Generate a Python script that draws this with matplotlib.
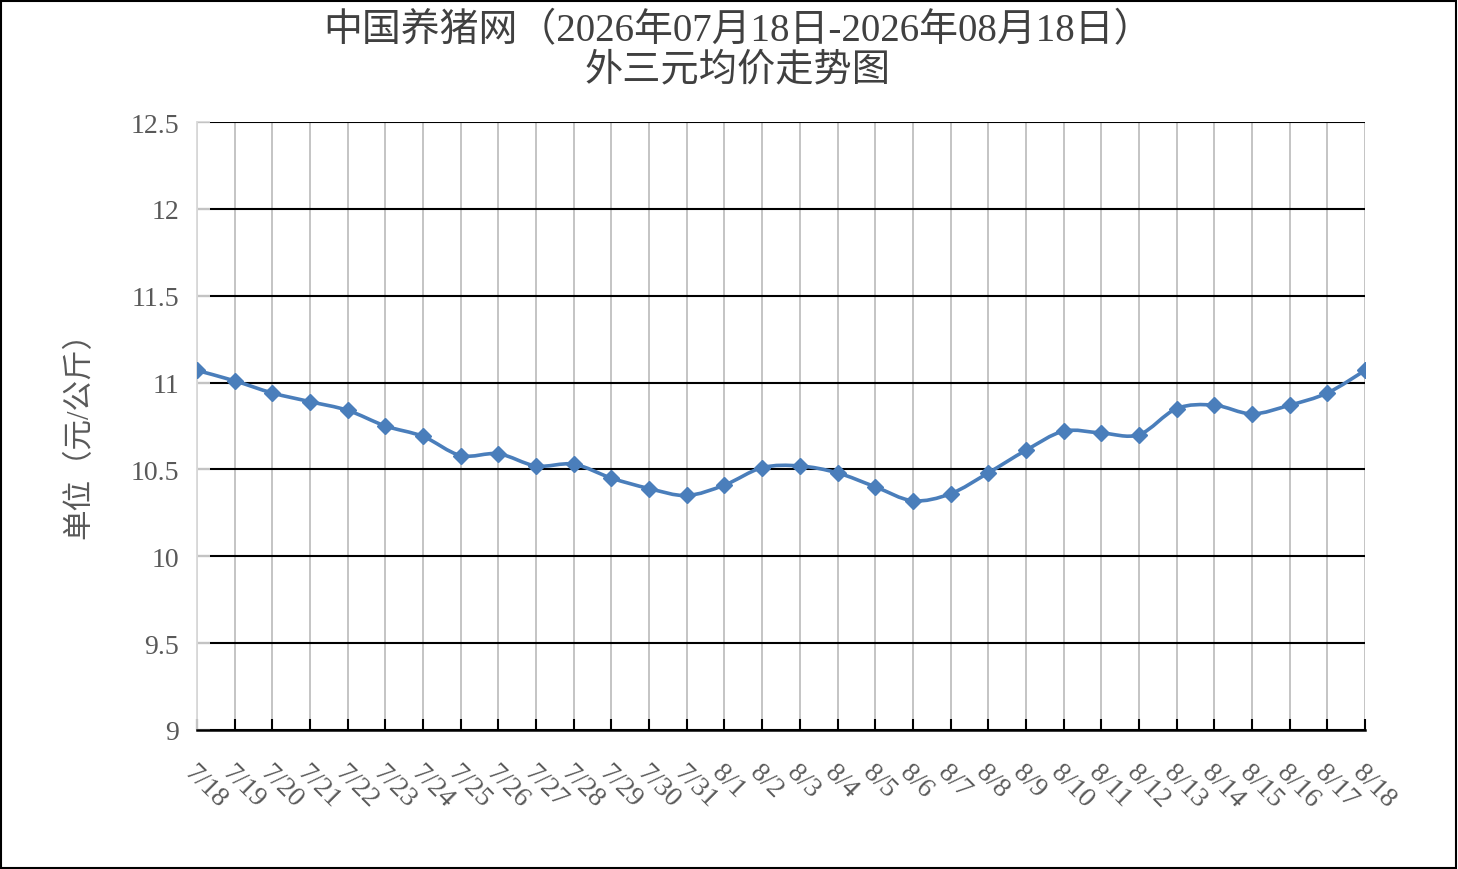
import matplotlib
matplotlib.use("Agg")
import matplotlib.pyplot as plt
from matplotlib.path import Path
from matplotlib.patches import PathPatch, Rectangle
import numpy as np

plt.rcParams['font.family'] = ['Liberation Serif', 'Noto Sans CJK SC', 'DejaVu Sans']

dates = ["7/18", "7/19", "7/20", "7/21", "7/22", "7/23", "7/24", "7/25", "7/26", "7/27",
         "7/28", "7/29", "7/30", "7/31", "8/1", "8/2", "8/3", "8/4", "8/5", "8/6",
         "8/7", "8/8", "8/9", "8/10", "8/11", "8/12", "8/13", "8/14", "8/15", "8/16",
         "8/17", "8/18"]
prices = [11.07, 11.01, 10.94, 10.89, 10.84, 10.75, 10.69, 10.58, 10.59, 10.52,
          10.53, 10.45, 10.39, 10.35, 10.41, 10.51, 10.52, 10.48, 10.40, 10.32,
          10.36, 10.48, 10.61, 10.72, 10.71, 10.70, 10.85, 10.87, 10.82, 10.87,
          10.94, 11.07]
yticks = [9, 9.5, 10, 10.5, 11, 11.5, 12, 12.5]
title1 = "中国养猪网（2026年07月18日-2026年08月18日）"
title2 = "外三元均价走势图"
ylabel = "单位（元/公斤）"

W, H = 1458, 870
fig = plt.figure(figsize=(W / 100, H / 100), dpi=100)
ax = fig.add_axes([197 / W, 1 - 731 / H, (1365 - 197) / W, (731 - 123) / H])

x = np.arange(len(dates))
y = np.array(prices)

# smooth (Excel-like) curve through points using cubic Bezier segments
verts = [(x[0], y[0])]
codes = [Path.MOVETO]
n = len(x)
for i in range(n - 1):
    p0 = np.array([x[max(i - 1, 0)], y[max(i - 1, 0)]])
    p1 = np.array([x[i], y[i]])
    p2 = np.array([x[i + 1], y[i + 1]])
    p3 = np.array([x[min(i + 2, n - 1)], y[min(i + 2, n - 1)]])
    c1 = p1 + (p2 - p0) / 6.0
    c2 = p2 - (p3 - p1) / 6.0
    verts += [tuple(c1), tuple(c2), tuple(p2)]
    codes += [Path.CURVE4] * 3
line_color = "#4a7ebb"
ax.add_patch(PathPatch(Path(verts, codes), fill=False, edgecolor=line_color,
                       lw=2.6, zorder=3, capstyle='round', joinstyle='round'))
ax.plot(x, y, linestyle='none', marker='D', markersize=8.5, color=line_color,
        markeredgecolor=line_color, zorder=4)

ax.set_xlim(0, n - 1)
ax.set_ylim(9, 12.5)
ax.set_yticks(yticks)
ax.set_yticklabels([f"{v:g}" for v in yticks])
ax.set_xticks(x)
ax.set_xticklabels(dates, rotation=-45, ha='left', va='top', rotation_mode='anchor')

ax.set_axisbelow(True)
ax.grid(axis='y', color='black', lw=1.5)
ax.grid(axis='x', color='#bfbfbf', lw=1.3)
for s in ['top', 'right']:
    ax.spines[s].set_visible(False)
ax.spines['left'].set_color('#d9d9d9')
ax.spines['left'].set_linewidth(1.3)
ax.spines['bottom'].set_color('black')
ax.spines['bottom'].set_linewidth(1.8)

ax.tick_params(axis='x', direction='in', length=8, width=1.5, color='black',
               pad=21, labelsize=20, labelcolor='#595959')
ax.tick_params(axis='y', direction='in', length=9, width=1.3, color='#d9d9d9',
               pad=13, labelsize=20, labelcolor='#595959')

fig.text(80 / W, 1 - 428 / H, ylabel, rotation=90, ha='center', va='center',
         fontsize=22, color='#595959')
fig.text(738 / W, 1 - 32 / H, title1, ha='center', va='center', fontsize=28, color='#404040')
fig.text(738 / W, 1 - 71 / H, title2, ha='center', va='center', fontsize=27.5, color='#404040')

fig.add_artist(Rectangle((1 / W, 1 / H), (W - 3) / W, (H - 3) / H, transform=fig.transFigure,
                         fill=False, edgecolor='black', lw=1.5))

fig.savefig("out.png", dpi=100)
